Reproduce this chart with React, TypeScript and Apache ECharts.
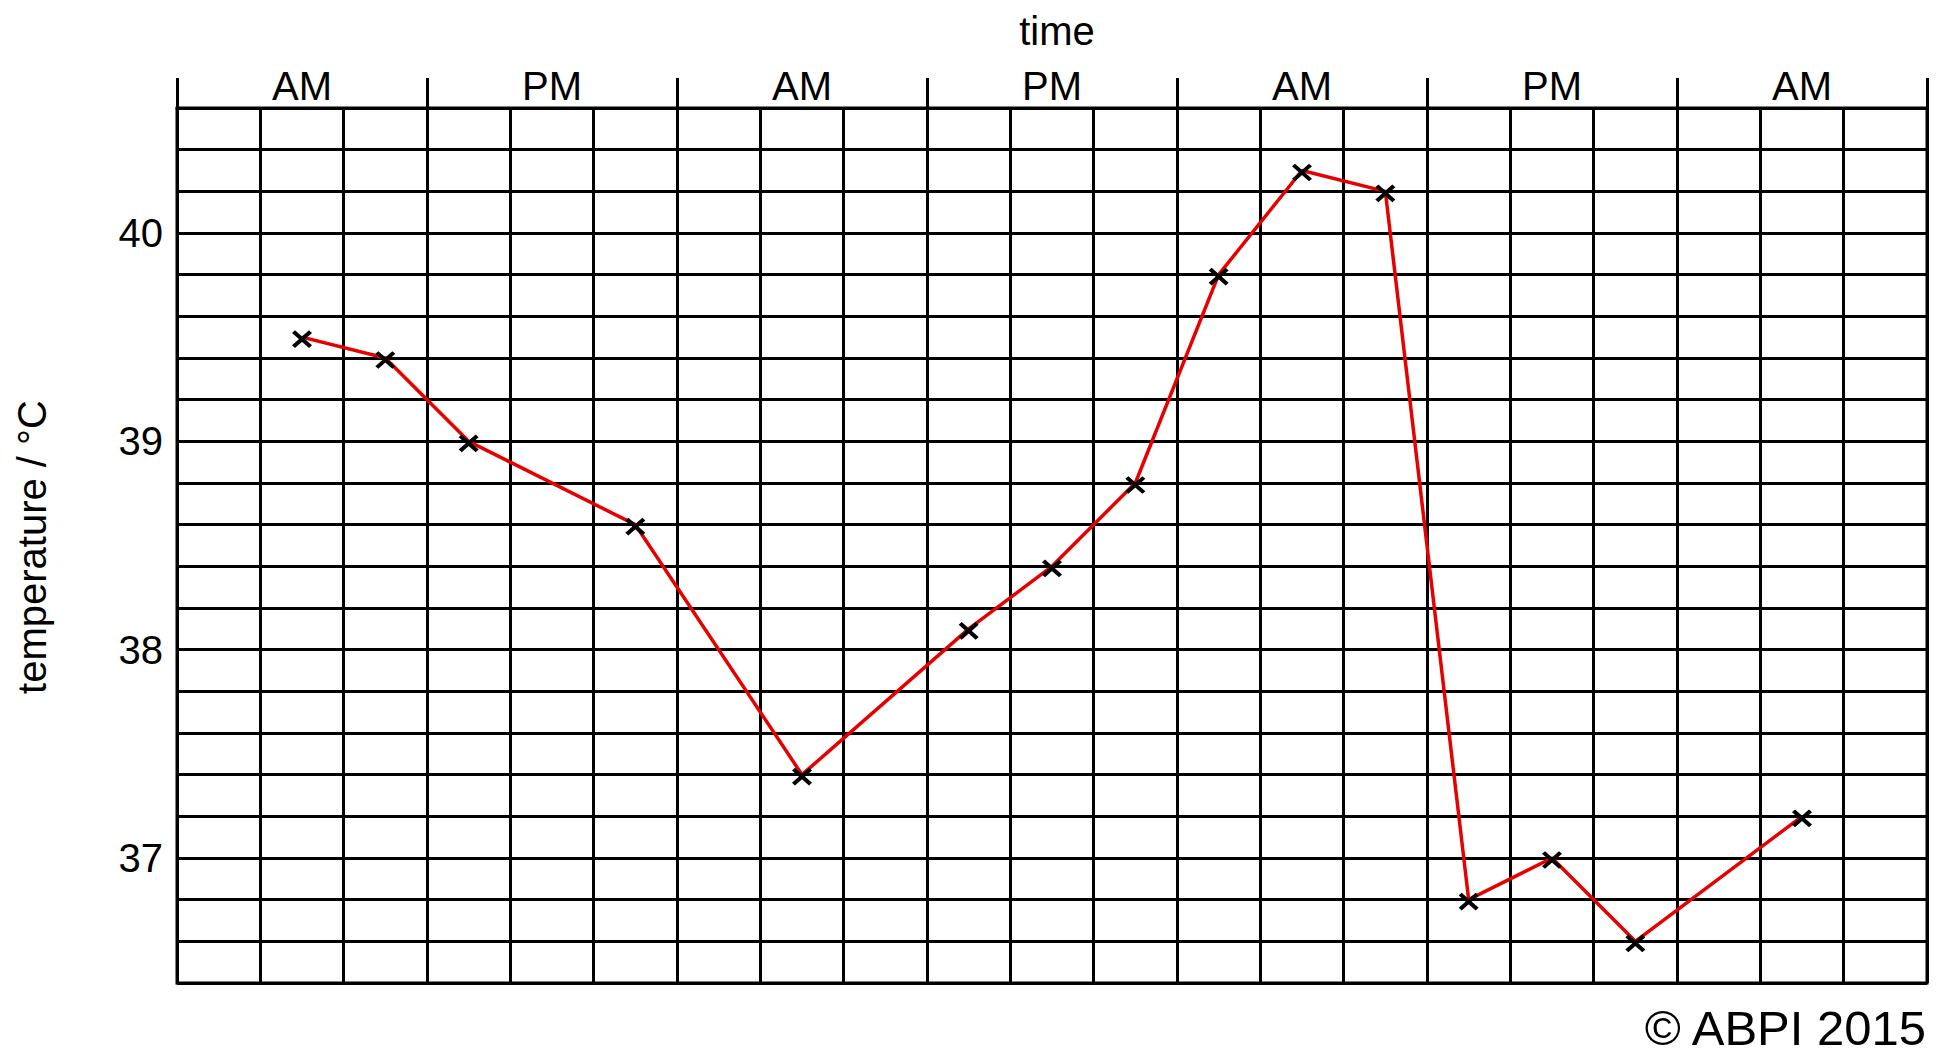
import React, { useEffect, useRef } from "react";
import * as echarts from "echarts";

// 21 time slots (columns), grouped 3 per AM/PM half-day
const periods = ["AM", "PM", "AM", "PM", "AM", "PM", "AM"];
const slots = Array.from({ length: 21 }, (_, i) => String(i));
// temperature readings (°C), null where no reading was taken
const temps: (number | null)[] = [
  null, 39.5, 39.4, 39.0, null, 38.6, null, 37.4, null, 38.1, 38.4,
  38.8, 39.8, 40.3, 40.2, 36.8, 37.0, 36.6, null, 37.2, null,
];
const yMin = 36.4;
const yMax = 40.6;
const yStep = 0.2;

const FONT = "'Liberation Sans', Arial, Helvetica, sans-serif";

export default function App() {
  const ref = useRef<HTMLDivElement>(null);
  useEffect(() => {
    if (!ref.current) return;
    const chart = echarts.init(ref.current, undefined, { renderer: "svg" });
    const black = "#000";
    chart.setOption({
      animation: false,
      backgroundColor: "#fff",
      grid: {
        left: 177,
        right: 21,
        top: 108,
        bottom: 80,
        show: true,
        borderColor: black,
        borderWidth: 3,
        backgroundColor: "transparent",
      },
      xAxis: [
        {
          type: "category",
          data: slots,
          boundaryGap: true,
          position: "top",
          axisLine: { show: false },
          axisTick: { show: false },
          axisLabel: { show: false },
          splitLine: { show: true, interval: 0, lineStyle: { color: black, width: 3 } },
        },
        {
          type: "category",
          data: periods,
          boundaryGap: true,
          position: "top",
          axisLine: { show: true, lineStyle: { color: black, width: 3 } },
          axisTick: {
            show: true,
            inside: false,
            length: 30,
            interval: 0,
            lineStyle: { color: black, width: 3 },
          },
          axisLabel: {
            show: true,
            interval: 0,
            margin: 2,
            color: black,
            fontSize: 40,
            fontFamily: FONT,
          },
          splitLine: { show: false },
        },
      ],
      yAxis: {
        type: "value",
        min: yMin,
        max: yMax,
        interval: yStep,
        axisLine: { show: true, lineStyle: { color: black, width: 3 } },
        axisTick: { show: false },
        axisLabel: {
          margin: 14,
          color: black,
          fontSize: 40,
          fontFamily: FONT,
          formatter: (v: number) =>
            Math.abs(v - Math.round(v)) < 1e-6 ? String(Math.round(v)) : "",
        },
        splitLine: { show: true, lineStyle: { color: black, width: 3 } },
      },
      series: [
        {
          type: "line",
          xAxisIndex: 0,
          data: temps,
          connectNulls: true,
          symbol: "path://M0,0L10,10M10,0L0,10",
          symbolSize: [17, 15],
          symbolOffset: [0, 2],
          showSymbol: true,
          lineStyle: { color: "#e60000", width: 3.5 },
          itemStyle: { color: "transparent", borderColor: black, borderWidth: 4 },
          z: 5,
        },
      ],
      graphic: [
        {
          type: "text",
          x: 1057,
          y: 31,
          style: {
            text: "time",
            fill: black,
            font: `40px ${FONT}`,
            align: "center",
            verticalAlign: "middle",
          },
        },
        {
          type: "text",
          x: 32,
          y: 547,
          rotation: Math.PI / 2,
          style: {
            text: "temperature / °C",
            fill: black,
            font: `40px ${FONT}`,
            align: "center",
            verticalAlign: "middle",
          },
        },
        {
          type: "text",
          x: 1926,
          y: 1028,
          style: {
            text: "© ABPI 2015",
            fill: black,
            font: `49px ${FONT}`,
            align: "right",
            verticalAlign: "middle",
          },
        },
      ],
    });
    return () => chart.dispose();
  }, []);
  return (
    <div
      ref={ref}
      style={{ position: "fixed", left: 0, top: 0, width: 1948, height: 1063, background: "#fff" }}
    />
  );
}
